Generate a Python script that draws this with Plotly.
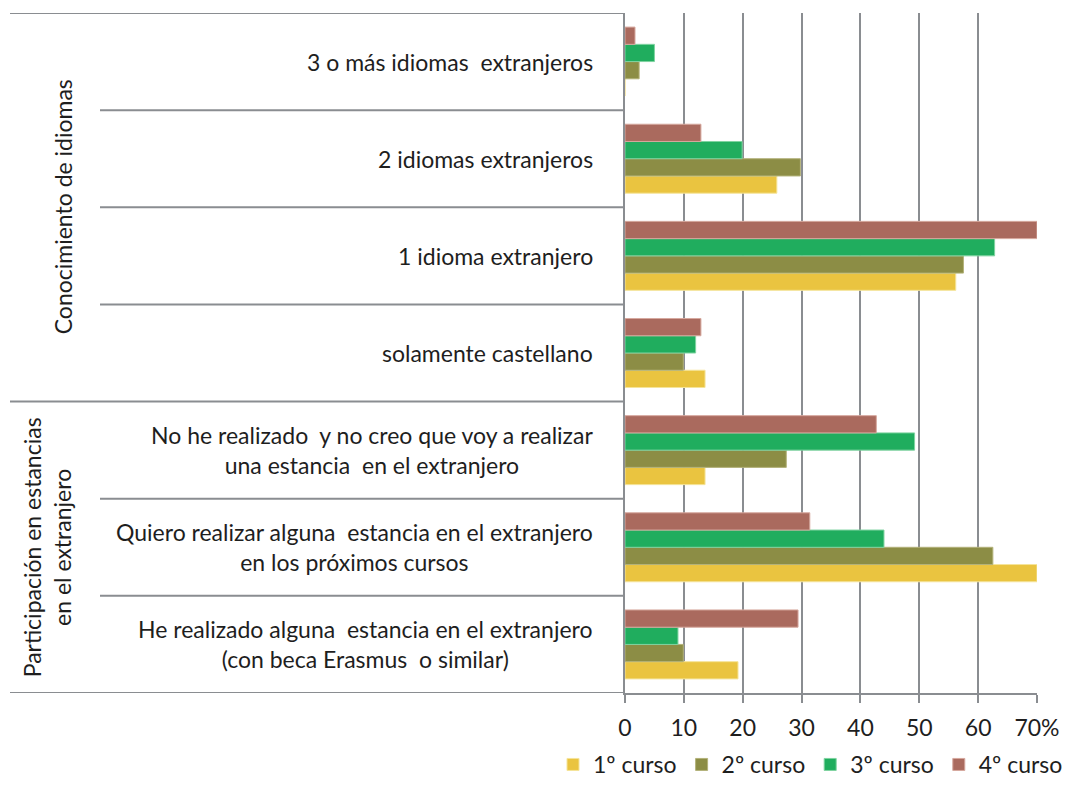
import plotly.graph_objects as go

# Categories from bottom to top (as drawn on the y axis)
categories = [
    "He realizado alguna  estancia en el extranjero<br>(con beca Erasmus  o similar)",
    "Quiero realizar alguna  estancia en el extranjero<br>en los próximos cursos",
    "No he realizado  y no creo que voy a realizar<br>una estancia  en el extranjero",
    "solamente castellano",
    "1 idioma extranjero",
    "2 idiomas extranjeros",
    "3 o más idiomas  extranjeros",
]
series_names = ["1º curso", "2º curso", "3º curso", "4º curso"]
curso1 = [19.2, 70.0, 13.6, 13.6, 56.2, 25.8, 0.0]
curso2 = [9.9, 62.5, 27.4, 9.9, 57.5, 29.8, 2.4]
curso3 = [9.0, 44.0, 49.2, 12.0, 62.8, 19.9, 5.0]
curso4 = [29.4, 31.4, 42.7, 12.9, 70.0, 12.9, 1.7]
group_labels = ["Participación en estancias<br>en el extranjero", "Conocimiento de idiomas"]
group_sizes = [3, 4]
tick_vals = [0, 10, 20, 30, 40, 50, 60, 70]
tick_text = ["0", "10", "20", "30", "40", "50", "60", "70%"]

colors = ["#EAC440", "#8C8D45", "#20AD5E", "#AA6A5E"]
line_colors = ["#F5E49A", "#B3B27A", "#7FD3A0", "#D6A89E"]
values = [curso1, curso2, curso3, curso4]

FONT = "Lato"
FS = 23
TXT = "#1e1e1e"
GRID = "#8a8d91"

fig = go.Figure()
for name, vals, c, lc in zip(series_names, values, colors, line_colors):
    fig.add_trace(go.Bar(
        y=categories, x=vals, name=name, orientation="h",
        marker=dict(color=c, line=dict(color=lc, width=1)),
    ))

W, H = 1070, 787
ml, mr, mt, mb = 625, 33, 13, 94
pw = W - ml - mr
ph = H - mt - mb

def px_to_paper_x(px):
    return (px - ml) / pw

def px_to_paper_y(py):
    return (H - mb - py) / ph

shapes = []
n = len(categories)
group_bounds = set()
acc = 0
for s in group_sizes:
    acc += s
    group_bounds.add(acc)
for k in range(n + 1):
    yb = k - 0.5
    x0 = px_to_paper_x(10) if (k == 0 or k in group_bounds) else px_to_paper_x(100)
    shapes.append(dict(type="line", xref="paper", yref="y", x0=x0, x1=0,
                       y0=yb, y1=yb, line=dict(color=GRID, width=2)))

annotations = []
for cat in categories:
    annotations.append(dict(
        x=px_to_paper_x(595), y=cat, xref="paper", yref="y",
        text=cat, showarrow=False, xanchor="right", yanchor="middle",
        align="center", font=dict(family=FONT, size=FS, color=TXT),
    ))
start = 0
gx = [px_to_paper_x(47), px_to_paper_x(63)]
for gl, s, xx in zip(group_labels, group_sizes, gx):
    center = start + (s - 1) / 2
    annotations.append(dict(
        x=xx, y=center, xref="paper", yref="y", text=gl, showarrow=False,
        textangle=-90, xanchor="center", yanchor="middle", align="center",
        font=dict(family=FONT, size=FS, color=TXT),
    ))
    start += s

fig.update_layout(
    width=W, height=H,
    margin=dict(l=ml, r=mr, t=mt, b=mb, autoexpand=False),
    paper_bgcolor="white", plot_bgcolor="white",
    barmode="group", bargap=0.29, bargroupgap=0,
    font=dict(family=FONT, size=FS, color=TXT),
    shapes=shapes, annotations=annotations,
    legend=dict(orientation="h", x=px_to_paper_x(553), xanchor="left",
                y=px_to_paper_y(786), yanchor="bottom",
                font=dict(family=FONT, size=FS, color=TXT),
                traceorder="normal", itemwidth=30, bgcolor="rgba(0,0,0,0)",
                borderwidth=0),
    showlegend=True,
)
fig.update_xaxes(range=[0, 70], tickvals=tick_vals, ticktext=tick_text,
                 showgrid=True, gridcolor=GRID, gridwidth=2,
                 showline=True, linecolor=GRID, linewidth=2,
                 ticks="outside", ticklen=8, tickcolor=GRID, tickwidth=2,
                 tickfont=dict(family=FONT, size=FS, color=TXT),
                 ticklabelstandoff=5, zeroline=False, fixedrange=True)
fig.update_yaxes(categoryorder="array", categoryarray=categories,
                 range=[-0.5, n - 0.5], showticklabels=False,
                 showline=True, linecolor=GRID, linewidth=2,
                 showgrid=False, zeroline=False, ticks="", fixedrange=True)

fig.write_html("out.html", config={"displayModeBar": False},
               post_script="document.body.style.margin='0';")
